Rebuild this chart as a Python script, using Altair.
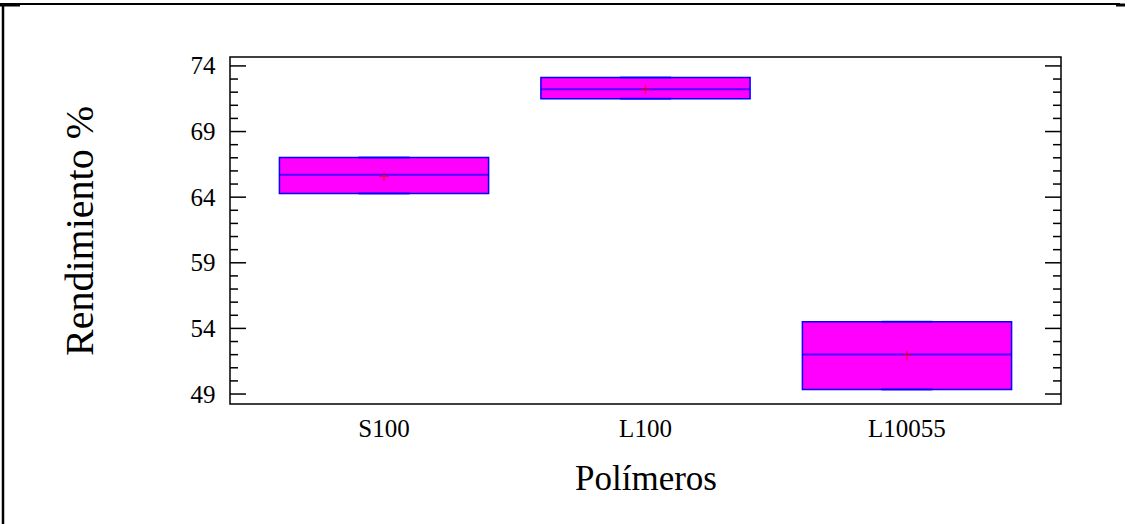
import altair as alt
import pandas as pd

# Data
polimeros = ["S100", "L100", "L10055"]
q1 = [64.28, 71.49, 49.35]
q3 = [67.02, 73.12, 54.50]
median = [65.70, 72.23, 52.02]
mean = [65.58, 72.20, 51.94]
lower_whisker = [64.28, 71.49, 49.35]
upper_whisker = [67.02, 73.12, 54.50]

y_tick_labels = [49, 54, 59, 64, 69, 74]
major_ticks = [49, 54, 59, 64, 69, 74]
minor_ticks = [v for v in range(49, 75) if v not in major_ticks]
y_domain = [48.24, 74.68]

df = pd.DataFrame({
    "Polímeros": polimeros, "q1": q1, "q3": q3, "median": median,
    "mean": mean, "lo": lower_whisker, "hi": upper_whisker,
})
df_major = pd.DataFrame({"v": major_ticks})
df_minor = pd.DataFrame({"v": minor_ticks})
df_one = pd.DataFrame({"k": [0]})

W, H = 831, 347
FONT = "Liberation Serif"

xscale = alt.Scale(domain=polimeros, paddingInner=0.2, paddingOuter=0.189)
yscale = alt.Scale(domain=y_domain, nice=False, zero=False)

x_enc = alt.X(
    "Polímeros:N", scale=xscale, sort=polimeros,
    axis=alt.Axis(
        title="Polímeros", labelAngle=0, ticks=False, tickSize=0, domain=False,
        labelFont=FONT, labelFontSize=25, labelColor="black", labelPadding=12,
        titleFont=FONT, titleFontSize=35, titleFontWeight="normal", titleColor="black",
        titleX=W / 2, titleY=74, titleBaseline="middle", titleAlign="center",
    ),
)
y_axis = alt.Axis(
    title="Rendimiento %", values=y_tick_labels, ticks=False, tickSize=0, domain=False,
    grid=False, labelFont=FONT, labelFontSize=25, labelColor="black", labelPadding=15,
    labelBaseline="middle",
    titleFont=FONT, titleFontSize=40, titleFontWeight="normal", titleColor="black",
    titleAngle=-90, titleX=-150, titleY=H / 2, titleBaseline="middle", titleAlign="center",
)

base = alt.Chart(df)

boxes = base.mark_bar(color="#FF00FF", stroke="#0000FF", strokeWidth=1.5).encode(
    x=x_enc,
    y=alt.Y("q1:Q", scale=yscale, axis=y_axis),
    y2="q3:Q",
)
med = base.mark_tick(color="#0000FF", size=209, thickness=2).encode(
    x=alt.X("Polímeros:N", scale=xscale, sort=polimeros),
    y=alt.Y("median:Q", scale=yscale),
)
caps_lo = base.mark_tick(color="#0000FF", size=51, thickness=2).encode(
    x=alt.X("Polímeros:N", scale=xscale, sort=polimeros),
    y=alt.Y("lo:Q", scale=yscale),
)
caps_hi = base.mark_tick(color="#0000FF", size=51, thickness=2).encode(
    x=alt.X("Polímeros:N", scale=xscale, sort=polimeros),
    y=alt.Y("hi:Q", scale=yscale),
)
means = base.mark_point(
    shape="M-1,0L1,0M0,-1L0,1", size=90, filled=False, color="red", strokeWidth=1.3
).encode(
    x=alt.X("Polímeros:N", scale=xscale, sort=polimeros),
    y=alt.Y("mean:Q", scale=yscale),
)

def tick_layer(data, x0, x1):
    return alt.Chart(data).mark_rule(color="black", strokeWidth=1.5).encode(
        y=alt.Y("v:Q", scale=yscale), x=alt.value(x0), x2=alt.value(x1)
    )

ticks = [
    tick_layer(df_major, 0, 16), tick_layer(df_minor, 0, 8),
    tick_layer(df_major, W - 16, W), tick_layer(df_minor, W - 8, W),
]

def hrule(x0, x1, y, w):
    return alt.Chart(df_one).mark_rule(color="black", strokeWidth=w, strokeCap="butt").encode(
        x=alt.value(x0), x2=alt.value(x1), y=alt.value(y)
    )

frame_top = hrule(-230, 890, -53, 2)
frame_top_l = hrule(-230, -210, -52, 3)
frame_top_r = hrule(886, 895, -52, 3)
frame_left = alt.Chart(df_one).mark_rule(color="black", strokeWidth=2.5, strokeCap="butt").encode(
    x=alt.value(-227), y=alt.value(-53), y2=alt.value(470)
)

chart = alt.layer(
    boxes, med, caps_lo, caps_hi, means, *ticks, frame_top, frame_top_l, frame_top_r, frame_left
).properties(
    width=W, height=H,
    autosize=alt.AutoSizeParams(type="none"),
    padding={"left": 230, "top": 57, "right": 66, "bottom": 120},
    background="white",
).configure_view(stroke="black", strokeWidth=1.5)

chart.save("out.html", embed_options={"renderer": "svg", "actions": False})
